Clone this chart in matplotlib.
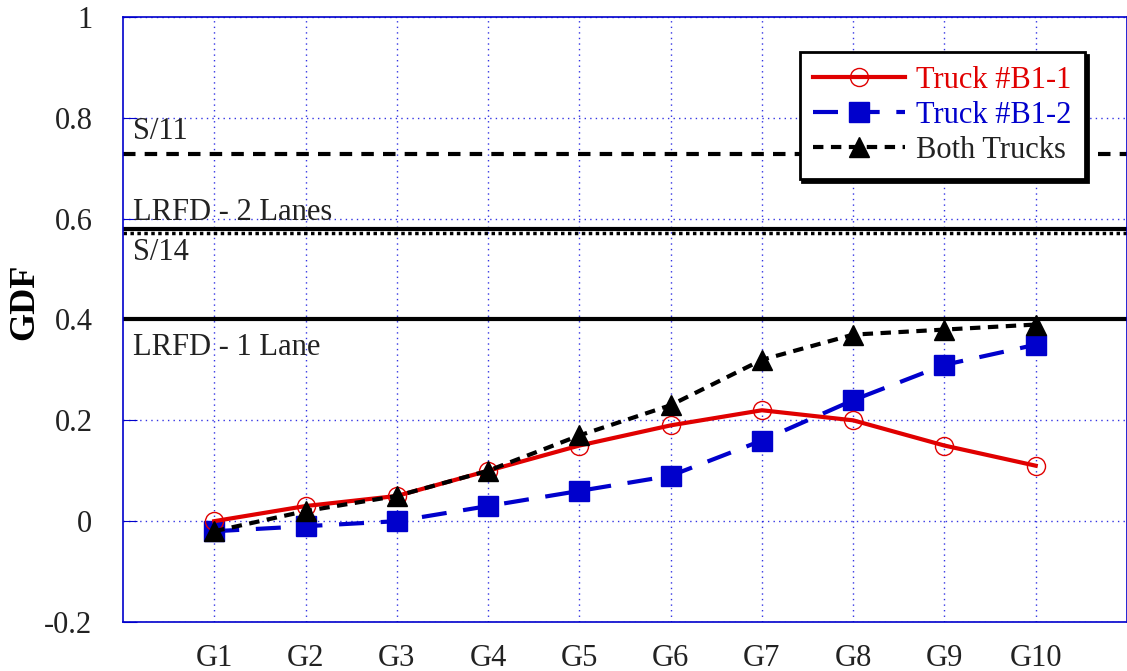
import numpy as np
import matplotlib.pyplot as plt

plt.rcParams['font.family'] = ['Liberation Serif', 'DejaVu Serif']

girders = ['G1', 'G2', 'G3', 'G4', 'G5', 'G6', 'G7', 'G8', 'G9', 'G10']
truck_b1_1 = [0.00, 0.03, 0.05, 0.10, 0.15, 0.19, 0.22, 0.20, 0.15, 0.11]
truck_b1_2 = [-0.02, -0.01, 0.00, 0.03, 0.06, 0.09, 0.16, 0.24, 0.31, 0.35]
both_trucks = [-0.02, 0.02, 0.05, 0.10, 0.17, 0.23, 0.32, 0.37, 0.38, 0.39]

s11 = 8 / 11
lrfd_2 = 0.58
s14 = 8 / 14
lrfd_1 = 0.40

x = np.arange(1, len(girders) + 1)

fig = plt.figure(figsize=(11.27, 6.71), dpi=100)
ax = fig.add_axes([0.1091, 0.073, 0.8909, 0.9017])

# lignes de reference
ax.axhline(s11, color='black', lw=3, ls=(0, (3, 2.2)), zorder=2)
ax.axhline(lrfd_2, color='black', lw=3, ls='-', zorder=2)
ax.axhline(s14, color='black', lw=2.5, ls=(0, (1, 1)), zorder=2)
ax.axhline(lrfd_1, color='black', lw=3, ls='-', zorder=2)

tc = '#222222'
ax.text(0.11, 0.772, 'S/11', fontsize=22, va='center', color=tc)
ax.text(0.11, 0.613, 'LRFD - 2 Lanes', fontsize=22, va='center', color=tc)
ax.text(0.11, 0.532, 'S/14', fontsize=22, va='center', color=tc)
ax.text(0.11, 0.345, 'LRFD - 1 Lane', fontsize=22, va='center', color=tc)

ax.plot(x, truck_b1_1, color='#e00000', lw=3, marker='o', ms=13, mfc='none',
        mec='#e00000', mew=1, label='Truck #B1-1', zorder=4)
ax.plot(x, truck_b1_2, color='#0000cc', lw=3, ls=(0, (6, 4)), marker='s', ms=14,
        mfc='#0000cc', mec='#0000cc', label='Truck #B1-2', zorder=3)
ax.plot(x, both_trucks, color='black', lw=3, ls=(0, (2.5, 1.8)), marker='^', ms=15,
        mfc='black', mec='black', label='Both Trucks', zorder=5)

ax.set_xlim(0, 11)
ax.set_ylim(-0.2, 1.0)
ax.set_xticks(x)
ax.set_xticklabels(girders)
ax.set_yticks([-0.2, 0, 0.2, 0.4, 0.6, 0.8, 1.0])
ax.set_yticklabels(['-0.2', '0', '0.2', '0.4', '0.6', '0.8', '1'])
ax.tick_params(axis='y', direction='in', length=10, color='#0000cc', labelsize=22,
               pad=22, labelcolor=tc)
ax.tick_params(axis='x', direction='in', length=0, labelsize=22, pad=16,
               labelcolor=tc)
for s in ax.spines.values():
    s.set_color('#0000cc')
    s.set_linewidth(1.2)

ax.grid(True, color='#0000dd', ls=(0, (1, 3)), lw=1, alpha=0.8)
ax.set_axisbelow(True)

ax.set_ylabel('GDF', fontsize=26, fontweight='bold', va='center')
ax.yaxis.set_label_coords(-0.098, 0.53)

leg = ax.legend(loc='upper right', bbox_to_anchor=(0.958, 0.942), fontsize=22,
                frameon=True, fancybox=False, shadow={'color': 'black', 'alpha': 1},
                edgecolor='black', framealpha=1, handlelength=3.0,
                borderpad=0.45, labelspacing=0.2, handletextpad=0.35,
                borderaxespad=0)
leg.get_frame().set_linewidth(2)
for txt, c in zip(leg.get_texts(), ['#e00000', '#0000cc', tc]):
    txt.set_color(c)
leg.set_zorder(10)

plt.savefig('out.png', dpi=100)
